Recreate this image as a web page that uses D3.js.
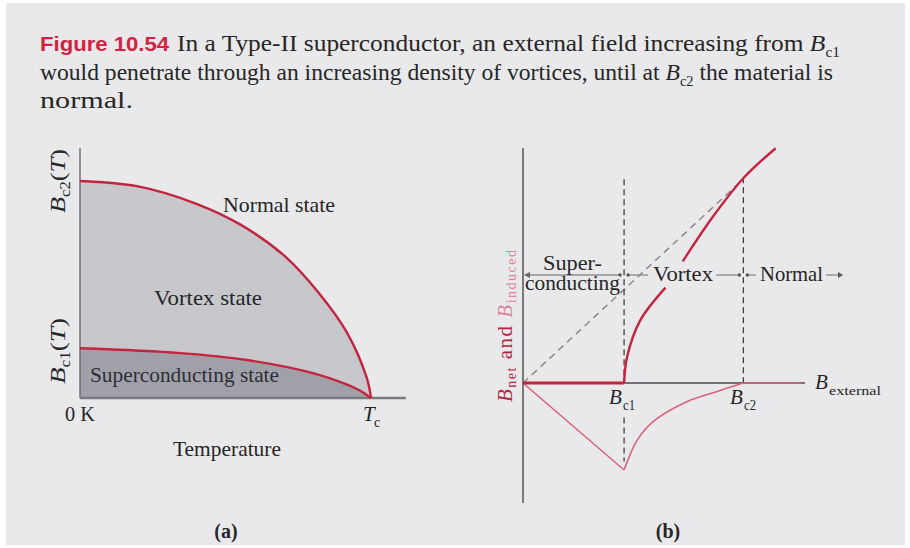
<!DOCTYPE html>
<html>
<head>
<meta charset="utf-8">
<script src="https://cdn.jsdelivr.net/npm/d3@7"></script>
<style>
  html, body { margin: 0; padding: 0; background: #ffffff; }
  svg { display: block; }
  .serif { font-family: "Liberation Serif", "Times New Roman", Tinos, serif; fill: #262626; }
</style>
</head>
<body>
<svg id="fig" width="910" height="548"></svg>
<script>
// ---- Panel (a): critical fields versus temperature (T / Tc, B / Bc2(0)) ----
const bc2Temps  = [0, 0.2, 0.4, 0.55, 0.7, 0.82, 0.918, 0.986, 1.0];
const bc2Field  = [1.0, 0.975, 0.895, 0.80, 0.658, 0.485, 0.30, 0.09, 0];
const bc1Temps  = [0, 0.344, 0.574, 0.80, 0.918, 0.96, 1.0];
const bc1Field  = [0.229, 0.207, 0.175, 0.115, 0.062, 0.036, 0];
const phaseLabels = ["Normal state", "Vortex state", "Superconducting state"];

// ---- Panel (b): net and induced field versus external field ----
const bc1 = 1.0, bc2 = 2.18;
const netLowB   = [1.00, 1.03, 1.16, 1.41];
const netLowV   = [0, 0.28, 0.67, 1.02];
const netHighB  = [1.58, 1.88, 2.18, 2.50];
const netHighV  = [1.30, 1.78, 2.19, 2.51];
const indRiseB  = [1.00, 1.13, 1.29, 1.62, 1.92, 2.18];
const indRiseV  = [-0.93, -0.61, -0.41, -0.20, -0.09, 0];
const indFallB  = [0, 1.00];
const indFallV  = [0, -0.93];
const indTailB  = [2.18, 2.75];
const regionNames = ["Super-", "conducting", "Vortex", "Normal"];

const svg = d3.select("#fig");
const RED = "#c3243e", PINK = "#d9647c", GREY = "#8c8c8c";

// page background
svg.append("rect").attr("x", 6).attr("y", 3).attr("width", 899).attr("height", 542)
  .attr("fill", "#e9e9eb");

function txt(x, y, s, opts = {}) {
  const t = svg.append("text").attr("x", x).attr("y", y).text(s)
    .attr("class", opts.cls || "serif")
    .attr("font-size", opts.size || 21);
  if (opts.len) t.attr("textLength", opts.len).attr("lengthAdjust", "spacingAndGlyphs");
  if (opts.italic) t.attr("font-style", "italic");
  if (opts.anchor) t.attr("text-anchor", opts.anchor);
  if (opts.fill) t.style("fill", opts.fill);
  if (opts.weight) t.attr("font-weight", opts.weight);
  if (opts.family) t.style("font-family", opts.family);
  return t;
}

// mixed-run text line: parts are [string, kind] with kind "" | "i" (italic) | "sub"
function richLine(x, y, size, len, parts) {
  const t = svg.append("text").attr("class", "serif").attr("x", x).attr("y", y)
    .attr("font-size", size);
  if (len) t.attr("textLength", len).attr("lengthAdjust", "spacingAndGlyphs");
  let shifted = false;
  parts.forEach(([s, kind]) => {
    const sp = t.append("tspan").text(s);
    if (kind === "i") sp.attr("font-style", "italic");
    if (kind === "sub") { sp.attr("font-size", Math.round(size * 0.6)).attr("dy", size * 0.27); shifted = true; }
    else if (shifted) { sp.attr("dy", -size * 0.27); shifted = false; }
  });
  return t;
}

// ---- caption ----
txt(40, 51, "Figure 10.54", { family: "'Liberation Sans',Arimo,sans-serif",
  weight: "bold", fill: "#d3223f", size: 20, len: 129 });
richLine(177, 51, 23, 663, [["In a Type-II superconductor, an external field increasing from ", ""], ["B", "i"], ["c1", "sub"]]);
richLine(40, 80, 23, 793, [["would penetrate through an increasing density of vortices, until at ", ""],
  ["B", "i"], ["c2", "sub"], [" the material is", ""]]);
richLine(40, 108, 23, 93, [["normal.", ""]]);

// =================== Panel (a) ===================
const xA = d3.scaleLinear().domain([0, 1.12]).range([80, 405.9]);
const yA = d3.scaleLinear().domain([0, 1.152]).range([398, 148]);

const upper = bc2Temps.map((t, i) => [t, bc2Field[i]]);
const lower = bc1Temps.map((t, i) => [t, bc1Field[i]]);

const areaA = d3.area().x(d => xA(d[0])).y0(yA(0)).y1(d => yA(d[1]))
  .curve(d3.curveCatmullRom.alpha(0.5));
const lineA = d3.line().x(d => xA(d[0])).y(d => yA(d[1]))
  .curve(d3.curveCatmullRom.alpha(0.5));

svg.append("path").attr("d", areaA(upper)).attr("fill", "#c7c7cc");
svg.append("path").attr("d", areaA(lower)).attr("fill", "#a0a0a8");

// axes of panel (a)
svg.append("line").attr("x1", xA(0)).attr("x2", xA(0)).attr("y1", yA(1.152)).attr("y2", yA(0))
  .attr("stroke", "#6a6a6e").attr("stroke-width", 1.4);
svg.append("line").attr("x1", xA(0)).attr("x2", xA(1.12)).attr("y1", yA(0)).attr("y2", yA(0))
  .attr("stroke", "#7a7a80").attr("stroke-width", 2.4);

svg.append("path").attr("d", lineA(upper)).attr("fill", "none")
  .attr("stroke", RED).attr("stroke-width", 2.4);
svg.append("path").attr("d", lineA(lower)).attr("fill", "none")
  .attr("stroke", RED).attr("stroke-width", 2.4);

txt(223, 212, phaseLabels[0], { len: 112 });
txt(154, 305, phaseLabels[1], { len: 108 });
txt(90, 382, phaseLabels[2], { len: 189, fill: "#2e2e36" });

// rotated axis labels Bc2(T), Bc1(T)
function critLabel(x, y, sub, len) {
  const t = svg.append("text").attr("class", "serif").attr("font-size", 22)
    .attr("transform", `translate(${x},${y}) rotate(-90)`)
    .attr("textLength", len).attr("lengthAdjust", "spacingAndGlyphs");
  t.append("tspan").attr("font-style", "italic").text("B");
  t.append("tspan").attr("font-size", 14).attr("dy", 5).text(sub);
  t.append("tspan").attr("dy", -5).text("(");
  t.append("tspan").attr("font-style", "italic").text("T");
  t.append("tspan").text(")");
}
critLabel(65, 213, "c2", 64);
critLabel(65, 384, "c1", 66);

txt(65, 421, "0 K", { len: 30 });
txt(363, 421, "T", { italic: true });
txt(374, 427, "c", { size: 14 });
txt(227, 456, "Temperature", { anchor: "middle", len: 108 });
txt(226, 538, "(a)", { anchor: "middle", weight: "bold", size: 20 });

// =================== Panel (b) ===================
const xB = d3.scaleLinear().domain([0, 2.79]).range([523, 805]);
const yB = d3.scaleLinear().domain([-1.283, 2.513]).range([503, 148]);

const lineB = d3.line().x(d => xB(d[0])).y(d => yB(d[1]));
const smoothB = d3.line().x(d => xB(d[0])).y(d => yB(d[1]))
  .curve(d3.curveCatmullRom.alpha(0.5));

// B_net = B_external reference (dashed)
svg.append("path").attr("d", lineB([[0, 0], [bc2, bc2]]))
  .attr("fill", "none").attr("stroke", "#8e8e92").attr("stroke-width", 1.6)
  .attr("stroke-dasharray", "7,5");

// critical field markers
const vdash = (b, v0, v1) => svg.append("line")
  .attr("x1", xB(b)).attr("x2", xB(b)).attr("y1", yB(v0)).attr("y2", yB(v1))
  .attr("stroke", "#333").attr("stroke-width", 1.2).attr("stroke-dasharray", "6,4");
vdash(bc1, bc2, 0);
vdash(bc2, bc2 + 0.02, 0);
vdash(bc1, -0.37, -0.84);

// axes
svg.append("line").attr("x1", xB(0)).attr("x2", xB(0)).attr("y1", yB(2.513)).attr("y2", yB(-1.283))
  .attr("stroke", "#4a4a4e").attr("stroke-width", 1.4);
svg.append("line").attr("x1", xB(0)).attr("x2", xB(2.79)).attr("y1", yB(0)).attr("y2", yB(0))
  .attr("stroke", "#4a4a4e").attr("stroke-width", 1.4);

// induced field
svg.append("path").attr("d", lineB(indFallB.map((b, i) => [b, indFallV[i]])))
  .attr("fill", "none").attr("stroke", PINK).attr("stroke-width", 1.6);
svg.append("path").attr("d", smoothB(indRiseB.map((b, i) => [b, indRiseV[i]])))
  .attr("fill", "none").attr("stroke", PINK).attr("stroke-width", 1.6);
svg.append("path").attr("d", lineB(indTailB.map(b => [b, 0])))
  .attr("fill", "none").attr("stroke", PINK).attr("stroke-width", 1.6);

// net field
svg.append("path").attr("d", lineB([[0, 0], [bc1, 0]]))
  .attr("fill", "none").attr("stroke", RED).attr("stroke-width", 3);
svg.append("path").attr("d", smoothB(netLowB.map((b, i) => [b, netLowV[i]])))
  .attr("fill", "none").attr("stroke", RED).attr("stroke-width", 2.4);
svg.append("path").attr("d", smoothB(netHighB.map((b, i) => [b, netHighV[i]])))
  .attr("fill", "none").attr("stroke", RED).attr("stroke-width", 2.4);

// region guide line at level 1.155
const lvl = yB(1.155);
const guide = (x1, x2) => svg.append("line").attr("x1", x1).attr("x2", x2)
  .attr("y1", lvl).attr("y2", lvl).attr("stroke", GREY).attr("stroke-width", 1.3);
guide(xB(0) + 2, xB(bc1) - 4);
guide(xB(bc1) + 4, 648);
guide(716, xB(bc2) - 4);
guide(xB(bc2) + 4, 756);
guide(826, 840);
[xB(bc1) - 4, xB(bc1) + 4, xB(bc2) - 4, xB(bc2) + 4].forEach(x =>
  svg.append("circle").attr("cx", x).attr("cy", lvl).attr("r", 1.7).attr("fill", "#555"));
svg.append("path").attr("d", `M${xB(0) + 1},${lvl} l6,-3 l0,6 z`).attr("fill", "#666");
svg.append("path").attr("d", `M843,${lvl} l-5,-3 l0,6 z`).attr("fill", "#555");

txt(543, 270, regionNames[0], { len: 59, size: 20 });
txt(525, 290, regionNames[1], { len: 95, size: 20 });
txt(653, 281, regionNames[2], { len: 60 });
txt(760, 281, regionNames[3], { len: 63 });

// axis labels
txt(815, 389, "B", { italic: true });
txt(829, 395, "external", { size: 13, len: 52 });
txt(609, 404, "B", { italic: true });
txt(623, 410, "c1", { size: 14, len: 12 });
txt(730, 404, "B", { italic: true });
txt(744, 410, "c2", { size: 14, len: 12 });

const yl = svg.append("text").attr("class", "serif").attr("font-size", 21)
  .attr("transform", "translate(512,402) rotate(-90)")
  .attr("textLength", 152).attr("lengthAdjust", "spacing");
yl.append("tspan").attr("font-style", "italic").style("fill", "#b3263f").text("B");
yl.append("tspan").attr("font-size", 14).attr("dy", 4).style("fill", "#b3263f").text("net");
yl.append("tspan").attr("dy", -4).style("fill", "#b3263f").text(" and ");
yl.append("tspan").attr("font-style", "italic").style("fill", "#e0849a").text("B");
yl.append("tspan").attr("font-size", 14).attr("dy", 4).style("fill", "#e0849a").text("induced");

txt(668, 538, "(b)", { anchor: "middle", weight: "bold", size: 20 });
</script>
</body>
</html>
